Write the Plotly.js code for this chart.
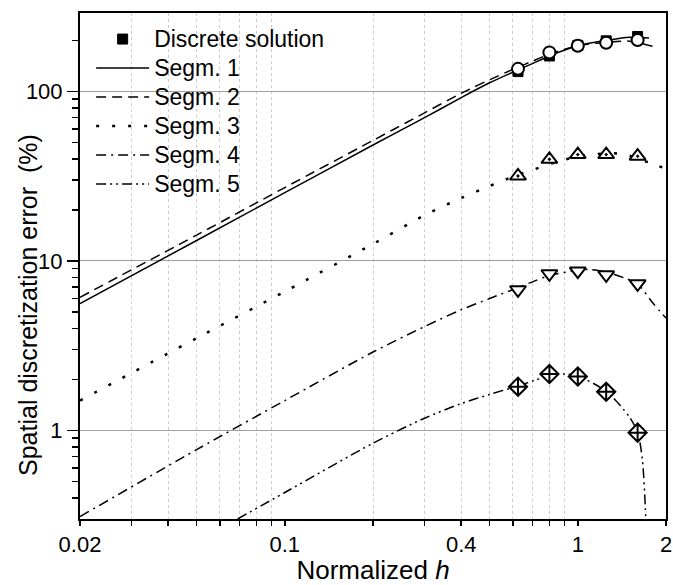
<!DOCTYPE html>
<html>
<head>
<meta charset="utf-8">
<script src="https://cdn.plot.ly/plotly-3.0.1.min.js"></script>
<style>html,body{margin:0;padding:0;background:#fff;}#chart{width:673px;height:585px;}</style>
</head>
<body>
<div id="chart"></div>
<script>
// ---- data ----
var seg1X = [0.02, 0.05, 0.1, 0.2, 0.3, 0.4, 0.5, 0.625, 0.7, 0.8, 1, 1.25, 1.5, 1.75];
var seg1Y = [5.6, 13.2, 25.3, 48.3, 70, 92, 112.5, 134, 146, 162, 186, 200, 209, 207];
var seg2X = [0.02, 0.05, 0.1, 0.2, 0.3, 0.4, 0.526, 0.625, 0.7, 0.8, 1, 1.25, 1.5, 1.8];
var seg2Y = [6.1, 14.2, 27.1, 51.4, 74.8, 97.5, 122, 139, 151, 166, 186, 195, 198, 185];
var seg3X = [0.02, 0.05, 0.1, 0.2, 0.3, 0.4, 0.49, 0.55, 0.625, 0.71, 0.9, 1.13, 1.42, 1.75, 2];
var seg3Y = [1.5, 3.5, 6.6, 12.6, 18.6, 23.5, 27.3, 29.6, 32.2, 34.7, 39.6, 42.6, 42.8, 38, 35];
var seg4X = [0.02, 0.05, 0.1, 0.2, 0.3, 0.4, 0.5, 0.625, 0.71, 0.8, 1, 1.1, 1.25, 1.45, 1.6, 1.81, 2];
var seg4Y = [0.31, 0.77, 1.5, 2.9, 4.1, 5.15, 6.0, 6.95, 7.6, 8.2, 8.8, 8.9, 8.6, 7.9, 7.3, 5.6, 4.6];
var seg5X = [0.069, 0.1, 0.2, 0.3, 0.4, 0.5, 0.625, 0.71, 0.8, 0.9, 1, 1.25, 1.5, 1.6, 1.66, 1.7, 1.72];
var seg5Y = [0.3, 0.43, 0.84, 1.18, 1.44, 1.63, 1.83, 1.97, 2.1, 2.15, 2.09, 1.7, 1.2, 0.97, 0.68, 0.35, 0.2];

var discX = [0.625, 0.8, 1, 1.25, 1.6];
var disc1Y = [131, 162, 187, 199, 211];
var disc2Y = [136, 170, 186, 194, 201];
var disc3Y = [31.7, 39.8, 42.4, 42.4, 41.5];
var disc4Y = [6.76, 8.4, 8.71, 8.28, 7.33];
var disc5Y = [1.81, 2.15, 2.08, 1.69, 0.97];

var seriesNames = ['Discrete solution', 'Segm. 1', 'Segm. 2', 'Segm. 3', 'Segm. 4', 'Segm. 5'];
var xTitle = 'Normalized <i>h</i>';
var yTitle = 'Spatial discretization error  (%)';

var xTickVals = [0.02, 0.1, 0.4, 1, 2];
var xTickText = ['0.02', '0.1', '0.4', '1', '2'];
var xMajorVals = [0.02, 0.1, 1, 2];
var xMinorVals = [0.03, 0.04, 0.05, 0.06, 0.07, 0.08, 0.09, 0.2, 0.3, 0.4, 0.5, 0.6, 0.7, 0.8, 0.9];
var yTickVals = [1, 10, 100];
var yTickText = ['1', '10', '100'];
var yMinorVals = [0.4, 0.5, 0.6, 0.7, 0.8, 0.9, 2, 3, 4, 5, 6, 7, 8, 9, 20, 30, 40, 50, 60, 70, 80, 90, 200];

// ---- styling ----
var FONT = 'Liberation Sans, Arial, sans-serif';
var xRange = [Math.log10(0.02), Math.log10(2)];
var yRange = [Math.log10(0.3), 2.463];
var LW = 1.5;

function legName(s) { return '<span style="font-size:23px">' + s + '</span>'; }

function lineTrace(x, y, name, dash, rank, w) {
  return {x: x, y: y, name: legName(name), mode: 'lines', type: 'scatter',
    line: {color: 'black', width: w || LW, dash: dash, shape: 'spline', smoothing: 0.8},
    legendrank: rank};
}
function markTrace(x, y, symbol, size) {
  return {x: x, y: y, mode: 'markers', type: 'scatter', showlegend: false,
    marker: {symbol: symbol, size: size, color: 'white', line: {color: 'black', width: 2}}};
}

var traces = [
  lineTrace(seg1X, seg1Y, seriesNames[1], 'solid', 2),
  lineTrace(seg2X, seg2Y, seriesNames[2], '10px,6px', 3),
  lineTrace(seg3X, seg3Y, seriesNames[3], '3px,13px', 4, 2.5),
  lineTrace(seg4X, seg4Y, seriesNames[4], '10px,5px,2px,5px', 5),
  lineTrace(seg5X, seg5Y, seriesNames[5], '10px,4px,2px,4px,2px,4px', 6),
  {x: discX, y: disc1Y, mode: 'markers', type: 'scatter', name: legName(seriesNames[0]), legendrank: 1,
    marker: {symbol: 'square', size: 10, color: 'black', line: {color: 'black', width: 1}}},
  markTrace(discX, disc2Y, 'circle', 12),
  markTrace(discX, disc3Y, 'triangle-up-dot', 14),
  markTrace(discX, disc4Y, 'triangle-down', 14),
  markTrace(discX, disc5Y, 'diamond-cross', 14)
];

var layout = {
  width: 673, height: 585,
  margin: {l: 80, r: 7, t: 13, b: 66, pad: 0},
  paper_bgcolor: 'white', plot_bgcolor: 'white',
  font: {family: FONT, color: 'black', size: 22},
  showlegend: true,
  legend: {x: 0.019, y: 0.987, xanchor: 'left', yanchor: 'top', bgcolor: 'rgba(0,0,0,0)',
    borderwidth: 0, font: {family: FONT, size: 20, color: 'black'}, itemwidth: 53, tracegroupgap: 0},
  annotations: [{text: yTitle, textangle: -90, xref: 'paper', yref: 'paper',
    x: -0.0887, y: 0.423, xanchor: 'center', yanchor: 'middle', showarrow: false,
    font: {family: FONT, size: 25, color: 'black'}}],
  xaxis: {type: 'log', range: xRange, tickmode: 'array', tickvals: xTickVals, ticktext: xTickText,
    ticks: 'outside', ticklen: 5, tickwidth: 1.5, tickcolor: 'black',
    showline: true, linecolor: 'black', linewidth: 2, mirror: true, showgrid: false, zeroline: false,
    tickfont: {family: FONT, size: 22},
    title: {text: xTitle, font: {family: FONT, size: 26}, standoff: 8},
    minor: {tickmode: 'array', tickvals: xMinorVals, ticks: 'outside', ticklen: 5, tickwidth: 1.5,
      tickcolor: 'black', showgrid: true, gridcolor: '#cccccc', gridwidth: 1, griddash: '3px,3px'}},
  xaxis3: {type: 'log', range: xRange, overlaying: 'x', side: 'bottom', anchor: 'y',
    tickmode: 'array', tickvals: xMajorVals, ticks: 'outside', ticklen: 10, tickwidth: 1.5, tickcolor: 'black',
    showticklabels: false, showgrid: true, gridcolor: '#a0a0a0', gridwidth: 1, showline: false, zeroline: false},
  xaxis2: {type: 'log', range: xRange, overlaying: 'x', side: 'top', anchor: 'y',
    tickmode: 'array', tickvals: xMajorVals, ticks: 'inside', ticklen: 8, tickwidth: 1.5, tickcolor: 'black',
    showticklabels: false, showgrid: false, showline: false, zeroline: false,
    minor: {tickmode: 'array', tickvals: xMinorVals, ticks: 'inside', ticklen: 5, tickwidth: 1.5, tickcolor: 'black', showgrid: false}},
  yaxis: {type: 'log', range: yRange, tickmode: 'array', tickvals: yTickVals, ticktext: yTickText,
    ticks: 'outside', ticklen: 11, tickwidth: 1.5, tickcolor: 'black',
    showline: true, linecolor: 'black', linewidth: 2, mirror: true,
    showgrid: true, gridcolor: '#a0a0a0', gridwidth: 1, zeroline: false,
    tickfont: {family: FONT, size: 22},
    minor: {tickmode: 'array', tickvals: yMinorVals, ticks: 'outside', ticklen: 6, tickwidth: 1.5,
      tickcolor: 'black', showgrid: false}},
  yaxis2: {type: 'log', range: yRange, overlaying: 'y', side: 'right', anchor: 'x',
    tickmode: 'array', tickvals: yTickVals, ticks: 'inside', ticklen: 8, tickwidth: 1.5, tickcolor: 'black',
    showticklabels: false, showgrid: false, showline: false, zeroline: false,
    minor: {tickmode: 'array', tickvals: yMinorVals, ticks: 'inside', ticklen: 5, tickwidth: 1.5, tickcolor: 'black', showgrid: false}}
};

Plotly.newPlot('chart', traces, layout, {staticPlot: true, displayModeBar: false});
</script>
</body>
</html>
